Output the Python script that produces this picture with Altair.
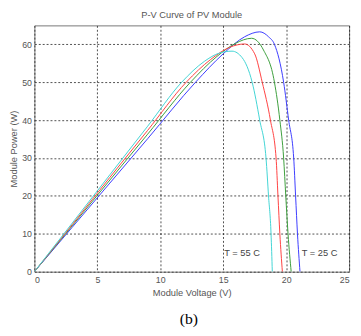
import altair as alt
import pandas as pd

# (approximate)
v_25 = [0, 3, 6, 9, 12.8, 15, 16.7, 17.9, 18.6, 19.07, 19.8, 20.2, 20.6, 20.75, 20.9, 21.1]
p_25 = [0, 11.7, 23.4, 35.1, 50, 57.5, 62, 63.3, 62, 60, 50, 40, 30, 20, 10, 0]

v_35 = [0, 3, 6, 9, 12.4, 14.5, 16, 17.25, 18.2, 19.07, 19.5, 19.8, 19.97, 20.15, 20.4]
p_35 = [0, 12.1, 24.2, 36.3, 50, 56.8, 60.3, 61.6, 58.5, 50, 40, 30, 20, 10, 0]

v_45 = [0, 3, 6, 9, 12.06, 14, 15.5, 16.7, 17.5, 18.1, 18.75, 19.2, 19.35, 19.5, 19.7]
p_45 = [0, 12.4, 24.9, 37.3, 50, 56, 59.2, 60.1, 57.5, 50, 40, 30, 20, 10, 0]

v_55 = [0, 3, 6, 9, 11.7, 13.5, 14.7, 15.7, 16.5, 17.3, 17.9, 18.4, 18.6, 18.8, 18.9]
p_55 = [0, 12.8, 25.6, 38.4, 50, 55.5, 57.7, 58.2, 56.5, 50, 40, 30, 20, 10, 0]

series_names = ["25", "35", "45", "55"]
series_colors = ["#3a3aff", "#3a9e3a", "#ff4040", "#40d4d4"]

ann_text = ["T = 55 C", "T = 25 C"]
ann_v = [16.5, 22.65]
ann_p = [4.9, 4.9]

rows = []
for name, vs, ps in zip(series_names, [v_25, v_35, v_45, v_55], [p_25, p_35, p_45, p_55]):
    for i, (v, p) in enumerate(zip(vs, ps)):
        rows.append({"T": name, "V": v, "P": p, "i": i})
df = pd.DataFrame(rows)
ann = pd.DataFrame({"t": ann_text, "V": ann_v, "P": ann_p})

xs = alt.Scale(domain=[0, 25], nice=False)
ys = alt.Scale(domain=[0, 65], nice=False)

axis_common = dict(
    grid=True, gridColor="#222", gridDash=[2, 2], gridOpacity=0.8, gridWidth=1,
    domain=False, ticks=False, labelColor="#555",
    labelFontSize=9, labelFont="Liberation Sans", titleFont="Liberation Sans",
    titleFontSize=9.5, titleColor="#555", titleFontWeight="normal",
)

lines = alt.Chart(df).mark_line(strokeWidth=1, interpolate="monotone", clip=True).encode(
    x=alt.X("V:Q", scale=xs, title="Module Voltage (V)",
            axis=alt.Axis(values=[0, 5, 10, 15, 20, 25], titlePadding=3, labelPadding=4, **axis_common)),
    y=alt.Y("P:Q", scale=ys, title="Module Power (W)",
            axis=alt.Axis(values=[0, 10, 20, 30, 40, 50, 60], titlePadding=3, labelPadding=3, **axis_common)),
    color=alt.Color("T:N", scale=alt.Scale(domain=series_names, range=series_colors), legend=None),
    order="i:Q",
    detail="T:N",
)

labels = alt.Chart(ann).mark_text(fontSize=9.5, font="Liberation Sans", color="#444").encode(
    x=alt.X("V:Q", scale=xs), y=alt.Y("P:Q", scale=ys), text="t:N"
)

sub = alt.Chart(pd.DataFrame({"t": ["(b)"]})).mark_text(
    fontSize=16, font="Liberation Serif", color="#000"
).encode(x=alt.value(158), y=alt.value(301), text="t:N")

chart = alt.layer(lines, labels, sub).properties(
    width=322, height=252,
    title=alt.TitleParams("P-V Curve of PV Module", fontSize=9.5, font="Liberation Sans",
                          fontWeight="normal", color="#555", offset=6),
    autosize=alt.AutoSizeParams(type="none"),
    padding={"left": 27, "top": 14, "right": 4, "bottom": 62},
).configure_view(stroke="#777", strokeWidth=1)

chart.save("out.html", embed_options={"renderer": "svg", "actions": False})
